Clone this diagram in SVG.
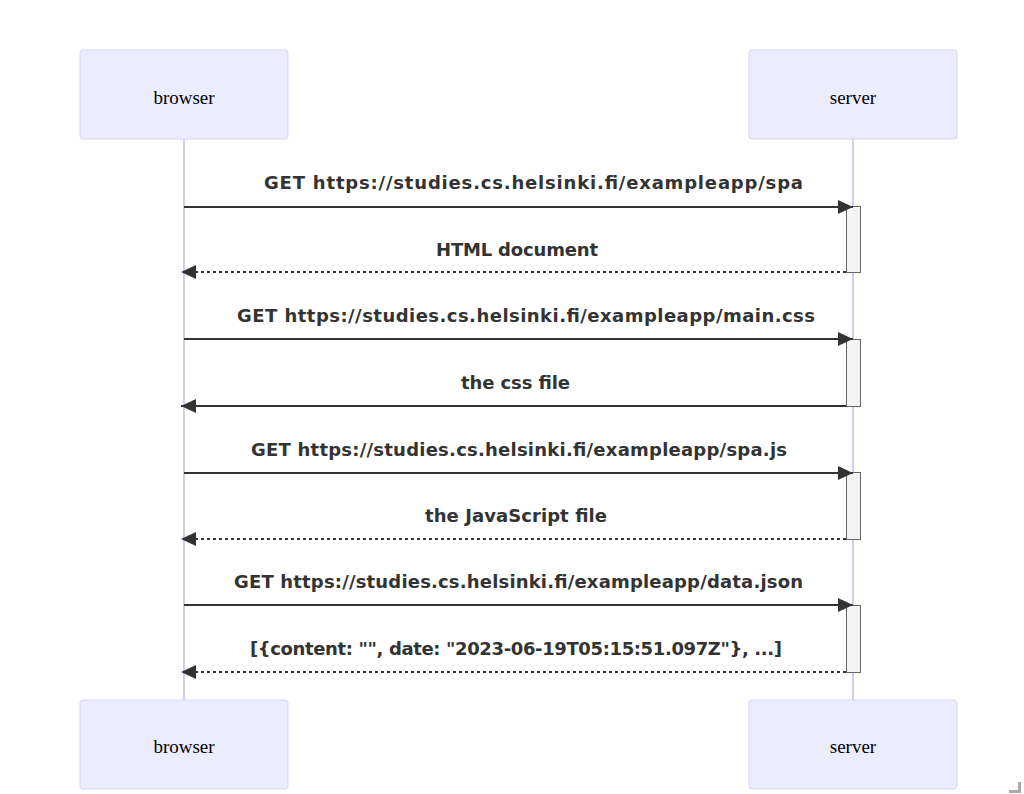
<svg xmlns="http://www.w3.org/2000/svg" width="1024" height="794" viewBox="0 0 1024 794">
<defs>
<style>
.actor{fill:#ECECFF;stroke:#D9D3F5;stroke-width:1}
.atext{font-family:"Liberation Serif",serif;font-size:19px;fill:#000;text-anchor:middle}
.life{stroke:#D4CCF3;stroke-width:2}
.msg{stroke:#333;stroke-width:2;fill:none}
.dash{stroke-dasharray:3,3}
.mtext{font-family:"DejaVu Sans",sans-serif;font-weight:bold;font-size:18px;fill:#333;text-anchor:start}
.act{fill:#F4F4F4;stroke:#666;stroke-width:1}
</style>
<marker id="arrow" viewBox="0 0 15 14" refX="15" refY="7" markerUnits="userSpaceOnUse" markerWidth="15" markerHeight="14" orient="auto">
<path d="M 0 0 L 15 7 L 0 14 z" fill="#333"/>
</marker>
</defs>
<rect width="1024" height="794" fill="#fff"/>
<g id="lifelines">
<line class="life" x1="184" y1="139" x2="184" y2="700"/>
<line class="life" x1="853" y1="139" x2="853" y2="700"/>
</g>
<g id="browser-top"><rect class="actor" x="80" y="50" width="208" height="89" rx="3"/><text class="atext" x="184" y="104">browser</text></g>
<g id="server-top"><rect class="actor" x="749" y="50" width="208" height="89" rx="3"/><text class="atext" x="853" y="104">server</text></g>
<g id="browser-bottom"><rect class="actor" x="80" y="700" width="208" height="89" rx="3"/><text class="atext" x="184" y="753">browser</text></g>
<g id="server-bottom"><rect class="actor" x="749" y="700" width="208" height="89" rx="3"/><text class="atext" x="853" y="753">server</text></g>
<g id="activations">
<rect class="act" x="846.5" y="206.5" width="14" height="66"/>
<rect class="act" x="846.5" y="339.5" width="14" height="67"/>
<rect class="act" x="846.5" y="472.5" width="14" height="67"/>
<rect class="act" x="846.5" y="605.5" width="14" height="67"/>
</g>
<g id="connectors">
<line class="msg" x1="184" y1="207" x2="853" y2="207" marker-end="url(#arrow)"/>
<line class="msg dash" x1="846" y1="272" x2="181" y2="272" marker-end="url(#arrow)"/>
<line class="msg" x1="184" y1="339" x2="853" y2="339" marker-end="url(#arrow)"/>
<line class="msg" x1="846" y1="406" x2="181" y2="406" marker-end="url(#arrow)"/>
<line class="msg" x1="184" y1="473" x2="853" y2="473" marker-end="url(#arrow)"/>
<line class="msg dash" x1="846" y1="539" x2="181" y2="539" marker-end="url(#arrow)"/>
<line class="msg" x1="184" y1="605" x2="853" y2="605" marker-end="url(#arrow)"/>
<line class="msg dash" x1="846" y1="672" x2="181" y2="672" marker-end="url(#arrow)"/>
</g>
<g id="labels">
<text class="mtext" x="264" y="189" textLength="539">GET https://studies.cs.helsinki.fi/exampleapp/spa</text>
<text class="mtext" x="436" y="256" textLength="162">HTML document</text>
<text class="mtext" x="237" y="322" textLength="578">GET https://studies.cs.helsinki.fi/exampleapp/main.css</text>
<text class="mtext" x="461" y="389" textLength="109">the css file</text>
<text class="mtext" x="251" y="456" textLength="536">GET https://studies.cs.helsinki.fi/exampleapp/spa.js</text>
<text class="mtext" x="425" y="522" textLength="182">the JavaScript file</text>
<text class="mtext" x="234" y="588" textLength="569">GET https://studies.cs.helsinki.fi/exampleapp/data.json</text>
<text class="mtext" x="250" y="655" textLength="532">[{content: "", date: "2023-06-19T05:15:51.097Z"}, ...]</text>
</g>
<path d="M1009 791.5 H1019.5 V782" fill="none" stroke="#aaa" stroke-width="3"/>
</svg>
